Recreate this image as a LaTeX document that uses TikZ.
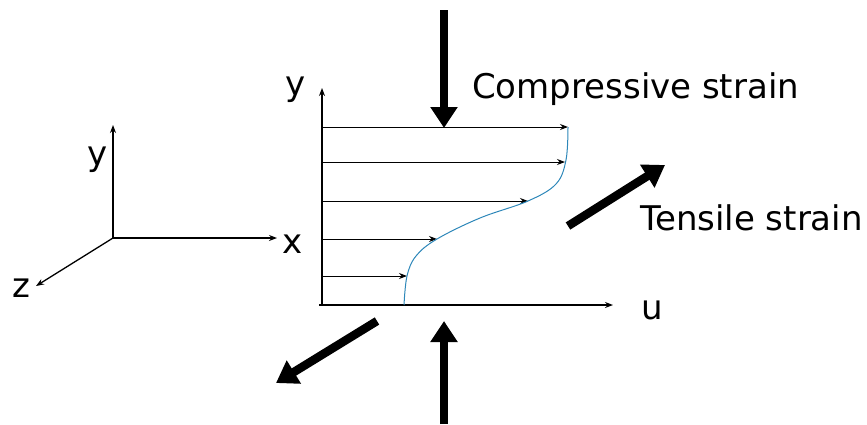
\documentclass[tikz,border=0pt]{standalone}
\usepackage{fontspec}
\setmainfont{DejaVu Sans}
\usetikzlibrary{arrows.meta}
\definecolor{profil}{RGB}{45,135,185}
\begin{document}
\begin{tikzpicture}[x=1pt, y=-1pt, line join=round, >={Stealth[length=8pt,width=6pt]},
		lbl/.style={font=\fontsize{34}{40}\selectfont, inner sep=0pt},
		bigarrow/.style={line width=8.5pt, -{Triangle[length=21pt,width=26pt]}},
		axis/.style={line width=1.3pt, ->},
		velo/.style={line width=1pt, ->}]
	\useasboundingbox (0,0) rectangle (867,424);
	% small frame
	\coordinate (F0) at (113,238);
	\coordinate (Fy) at (113,125);
	\coordinate (Fx) at (277,238);
	\coordinate (Fz) at (36,286);
	\draw[axis] (F0) -- (Fy);
	\draw[axis] (F0) -- (Fx);
	\draw[axis] (F0) -- (Fz);
	\node[lbl, anchor=base] (ly) at (98,165) {y};
	\node[lbl, anchor=base] (lx) at (293,253) {x};
	\node[lbl, anchor=base] (lz) at (21,297) {z};
	% profile axes
	\coordinate (O) at (322,305);
	\coordinate (Oy) at (322,88);
	\coordinate (Ou) at (613,305);
	\draw[axis] (O) -- (Oy);
	\draw[axis] (319,305) -- (Ou);
	\node[lbl, anchor=base] (my) at (296,95) {y};
	\node[lbl, anchor=base] (mu) at (652,319) {u};
	% velocity arrows
	\foreach \yy/\uu in {127/568, 162/565, 201/528, 239/437, 276/407}
		\draw[velo] (322,\yy) -- (\uu,\yy);
	\draw[profil, line width=1pt] plot[smooth, tension=0.6] coordinates {(568,127) (566,160) (556,184) (528,201) (480,218) (437,239) (416,256) (407,276) (404,305)};
	% strain arrows
	\coordinate (C1) at (444,10);
	\coordinate (C2) at (444,128);
	\coordinate (C3) at (444,424);
	\coordinate (C4) at (444,321);
	\coordinate (T1) at (568,226);
	\coordinate (T2) at (665,165);
	\coordinate (T3) at (377,321);
	\coordinate (T4) at (276,383);
	\draw[bigarrow] (C1) -- (C2);
	\draw[bigarrow] (C3) -- (C4);
	\draw[bigarrow] (T1) -- (T2);
	\draw[bigarrow] (T3) -- (T4);
	\node[lbl, anchor=base west] (comp) at (472,98) {Compressive strain};
	\node[lbl, anchor=base west] (tens) at (640,230) {Tensile strain};
\end{tikzpicture}
\end{document}
